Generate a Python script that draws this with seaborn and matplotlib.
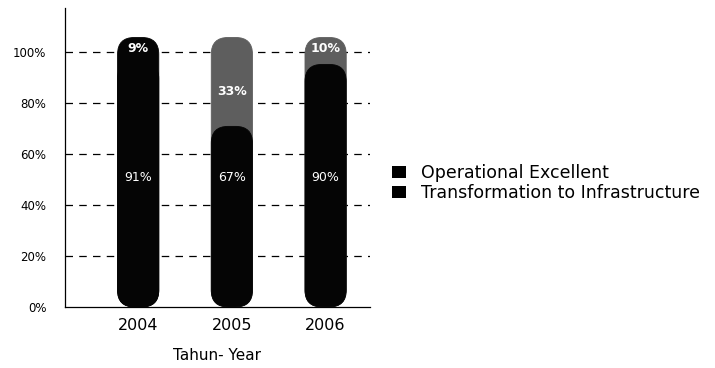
import matplotlib
matplotlib.use("Agg")
import matplotlib.pyplot as plt
from matplotlib.patches import FancyBboxPatch, Patch
import seaborn as sns
import pandas as pd

# Share of strategic initiatives per year
years = ["2004", "2005", "2006"]
operational_excellent = [9, 33, 10]
transformation_infra = [91, 67, 90]
top_colors = ["#050505", "#5e5e5e", "#5e5e5e"]
yticks = [0, 20, 40, 60, 80, 100]

df = pd.DataFrame({
    "year": years,
    "ops": operational_excellent,
    "infra": transformation_infra,
})
df["total"] = df["ops"] + df["infra"]

sns.set_theme(style="white")
plt.rcParams["font.family"] = ["DejaVu Sans"]
plt.rcParams.update({"text.color": "black", "axes.labelcolor": "black",
                     "xtick.color": "black", "ytick.color": "black"})

fig = plt.figure(figsize=(7.15, 3.68), dpi=100)
ax = fig.add_axes([0.091, 0.166, 0.426, 0.812])

# stacked: full column first, lower segment on top of it
sns.barplot(data=df, x="year", y="total", hue="year", palette=top_colors,
            width=0.44, legend=False, ax=ax, saturation=1)
sns.barplot(data=df, x="year", y="infra", color="#050505",
            width=0.44, ax=ax, saturation=1)

ax.set_xlim(-0.78, 2.47)
ax.set_ylim(0, 117)

# turn each rectangle into a pill with rounded caps
px_x = (ax.get_xlim()[1] - ax.get_xlim()[0]) / (0.426 * 715)
px_y = (ax.get_ylim()[1] - ax.get_ylim()[0]) / (0.812 * 368)
aspect = px_y / px_x
cap = 1.055
rects = list(ax.patches)
for r in rects:
    x, y, w, h = r.get_x(), r.get_y(), r.get_width(), r.get_height()
    fc = r.get_facecolor()
    r.remove()
    pill = FancyBboxPatch((x, y), w, h * cap,
                          boxstyle="round,pad=0,rounding_size=0.18",
                          mutation_aspect=aspect, facecolor=fc,
                          edgecolor=fc, linewidth=0.6, zorder=3)
    ax.add_patch(pill)

# value labels
for i, (o, b) in enumerate(zip(operational_excellent, transformation_infra)):
    ax.text(i, 50.5, f"{b}%", color="white", ha="center", va="center",
            fontsize=9, zorder=5)
    ytop = b + o / 2 + 1 if o >= 15 else b + o + 1
    ax.text(i, ytop, f"{o}%", color="white", ha="center", va="center",
            fontsize=9, fontweight="bold", zorder=5)

ax.set_yticks(yticks)
ax.set_yticklabels([f"{v}%" for v in yticks], fontsize=8.5)
ax.tick_params(axis="y", direction="inout", length=7, width=0.8, pad=10,
               colors="black")
ax.tick_params(axis="x", length=0, labelsize=11.5, pad=8, colors="black")
for v in yticks[1:]:
    ax.axhline(v, color="black", lw=0.9, dashes=(6, 5), zorder=1)

ax.set_xlabel("Tahun- Year", fontsize=11, labelpad=11)
ax.set_ylabel("")
for s in ["top", "right"]:
    ax.spines[s].set_visible(False)
for s in ["left", "bottom"]:
    ax.spines[s].set_color("black")
    ax.spines[s].set_linewidth(0.9)

handles = [Patch(facecolor="black", edgecolor="none"),
           Patch(facecolor="black", edgecolor="none")]
fig.legend(handles, ["Operational Excellent", "Transformation to Infrastructure"],
           loc="center left", bbox_to_anchor=(0.536, 0.503), frameon=False,
           fontsize=12.5, borderpad=0, handlelength=0.8, handleheight=0.7,
           handletextpad=0.9, labelspacing=0.1)

fig.savefig("out.png", dpi=100)
